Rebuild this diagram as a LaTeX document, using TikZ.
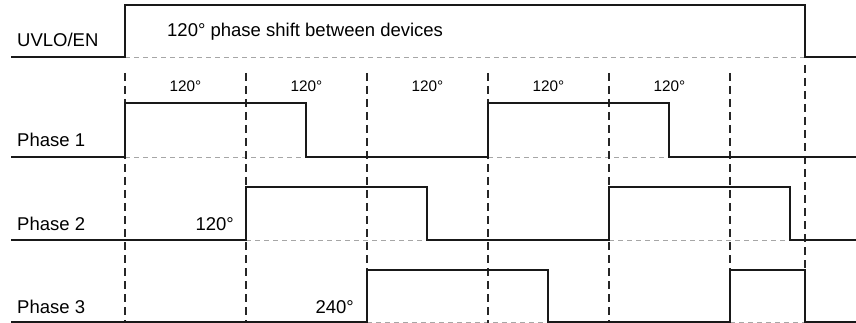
\documentclass[tikz,border=0pt]{standalone}
\usepackage{fontspec}
\setmainfont{Liberation Sans}
\begin{document}
\begin{tikzpicture}[x=1pt,y=-1pt,
  sig/.style={line width=1.3pt, color=black!90, line join=miter},
  vgrid/.style={line width=1.3pt, dash pattern=on 8pt off 5pt, color=black!85},
  basel/.style={line width=0.9pt, dash pattern=on 5pt off 4pt, color=black!35},
  lbl/.style={font=\fontsize{18.5}{21}\selectfont, inner sep=0pt},
  deg/.style={font=\fontsize{15.3}{18}\selectfont, inner sep=0pt}]
\useasboundingbox (0,0) rectangle (856,323);

% grey dashed baselines under high levels
\draw[basel] (125,57) -- (805,57);
\draw[basel] (125,157) -- (306,157);
\draw[basel] (488,157) -- (669,157);
\draw[basel] (246,240) -- (427,240);
\draw[basel] (609,240) -- (790,240);
\draw[basel] (367,322) -- (548,322);
\draw[basel] (730,322) -- (805,322);

% vertical dashed markers
\foreach \x in {125,246,367,488,609,730}
  \draw[vgrid] (\x,73) -- (\x,323);
\draw[vgrid] (805,65) -- (805,323);

% waveforms
\draw[sig] (11,57) -- (125,57) -- (125,5) -- (805,5) -- (805,57) -- (856,57);
\draw[sig] (11,157) -- (125,157) -- (125,103) -- (306,103) -- (306,157) -- (488,157)
  -- (488,103) -- (669,103) -- (669,157) -- (856,157);
\draw[sig] (11,240) -- (246,240) -- (246,187) -- (427,187) -- (427,240) -- (609,240)
  -- (609,187) -- (790,187) -- (790,240) -- (856,240);
\draw[sig] (11,322) -- (367,322) -- (367,270) -- (548,270) -- (548,322) -- (730,322)
  -- (730,270) -- (805,270) -- (805,322) -- (856,322);

% labels
\node[lbl, anchor=base west] (uvlo) at (17,47) {UVLO/EN};
\node[lbl, anchor=base west] (shift) at (167,37) {120° phase shift between devices};
\node[lbl, anchor=base west] (p1) at (17,147) {Phase 1};
\node[lbl, anchor=base west] (p2) at (17,230) {Phase 2};
\node[lbl, anchor=base west] (p3) at (17,313) {Phase 3};
\node[lbl, anchor=base east] (d120) at (234,230) {120°};
\node[lbl, anchor=base east] (d240) at (354,313) {240°};
\foreach \c/\n in {185.5/1,306.5/2,427.5/3,548.5/4,669.5/5}
  \node[deg, anchor=base] (deg\n) at (\c,92) {120°};
\end{tikzpicture}
\end{document}
